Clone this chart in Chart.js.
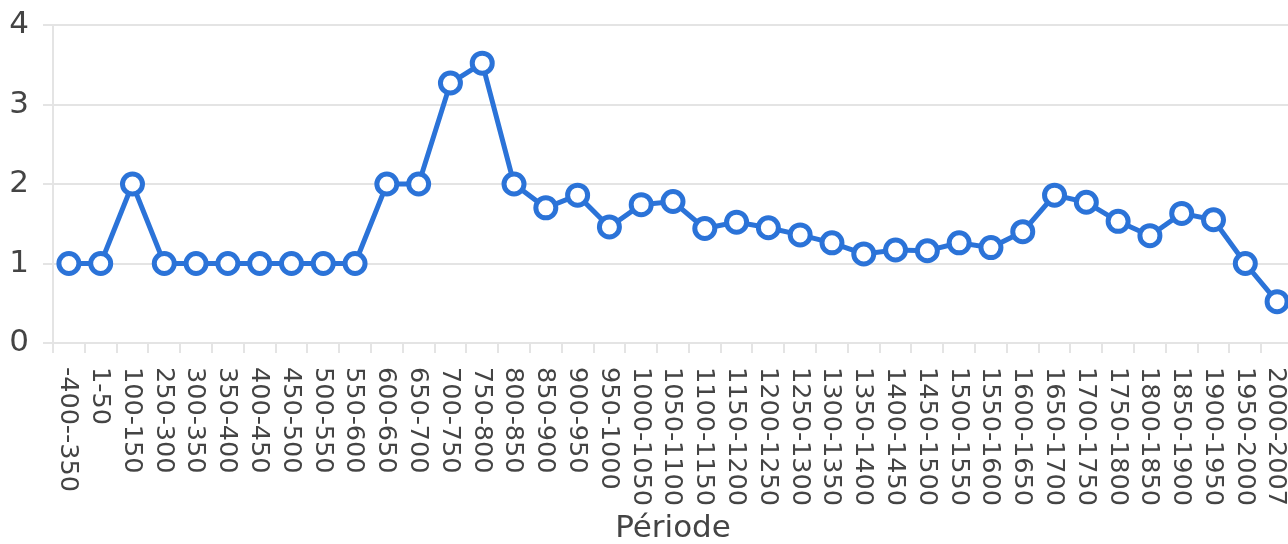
<!DOCTYPE html>
<html>
<head>
<meta charset="utf-8">
<style>
  html, body { margin: 0; padding: 0; background: #fff; overflow: hidden; }
  #wrap { width: 1293px; height: 544px; }
</style>
<script src="https://cdn.jsdelivr.net/npm/chart.js@4.4.0/dist/chart.umd.min.js"></script>
</head>
<body>
<div id="wrap"><canvas id="c" width="1293" height="544"></canvas></div>
<script>
const categories = ["-400--350","1-50","100-150","250-300","300-350","350-400","400-450","450-500","500-550","550-600","600-650","650-700","700-750","750-800","800-850","850-900","900-950","950-1000","1000-1050","1050-1100","1100-1150","1150-1200","1200-1250","1250-1300","1300-1350","1350-1400","1400-1450","1450-1500","1500-1550","1550-1600","1600-1650","1650-1700","1700-1750","1750-1800","1800-1850","1850-1900","1900-1950","1950-2000","2000-2007"];
const values = [1,1,2,1,1,1,1,1,1,1,2,2,3.27,3.52,2,1.7,1.86,1.46,1.74,1.78,1.44,1.52,1.45,1.36,1.26,1.12,1.17,1.16,1.26,1.2,1.4,1.86,1.77,1.53,1.35,1.63,1.55,1,0.52];
const yTicks = [0,1,2,3,4];
const xTitle = "Période";

const FONT = "'DejaVu Sans', sans-serif";
const TEXT = '#444444';
const GRID = '#e4e4e4';
const BLUE = '#2b73d8';

const rotatedLabels = {
  id: 'rotatedLabels',
  afterDraw(chart) {
    const xs = chart.scales.x;
    const ctx = chart.ctx;
    ctx.save();
    ctx.fillStyle = TEXT;
    ctx.font = "25.5px " + FONT;
    ctx.textAlign = 'left';
    ctx.textBaseline = 'middle';
    categories.forEach((lab, i) => {
      const x = xs.getPixelForValue(i);
      ctx.save();
      ctx.translate(x - 1, xs.top + 24);
      ctx.rotate(Math.PI / 2);
      ctx.fillText(lab, 0, 0);
      ctx.restore();
    });
    ctx.restore();
  }
};

new Chart(document.getElementById('c'), {
  type: 'line',
  data: {
    labels: categories,
    datasets: [{
      data: values,
      borderColor: BLUE,
      borderWidth: 5,
      backgroundColor: '#ffffff',
      pointBackgroundColor: '#ffffff',
      pointBorderColor: BLUE,
      pointBorderWidth: 5,
      pointRadius: 10,
      tension: 0,
      fill: false,
      clip: false
    }]
  },
  options: {
    responsive: false,
    animation: false,
    layout: { autoPadding: false, padding: { top: 25, left: 0, right: 0, bottom: 0 } },
    plugins: { legend: { display: false }, tooltip: { enabled: false } },
    scales: {
      x: {
        offset: true,
        grid: { display: true, offset: true, drawOnChartArea: false, drawTicks: true, tickLength: 10, color: GRID, lineWidth: 2 },
        border: { display: true, color: GRID, width: 2 },
        ticks: { display: false, autoSkip: false },
        title: { display: true, text: xTitle, color: TEXT, font: { family: FONT, size: 31, lineHeight: 1.0 }, padding: { top: 0, bottom: 0 } },
        afterFit(scale) { scale.height = 201; scale.paddingLeft = 0; scale.paddingRight = 0; }
      },
      y: {
        min: 0, max: 4,
        afterBuildTicks(scale) { scale.ticks = yTicks.map(v => ({ value: v })); },
        grid: { color: GRID, lineWidth: 2, tickLength: 10, drawTicks: true },
        border: { display: true, color: GRID, width: 2 },
        ticks: { color: TEXT, font: { family: FONT, size: 31 }, padding: 14 },
        afterFit(scale) { scale.width = 53; scale.paddingTop = 0; scale.paddingBottom = 0; }
      }
    }
  },
  plugins: [rotatedLabels]
});
</script>
</body>
</html>
